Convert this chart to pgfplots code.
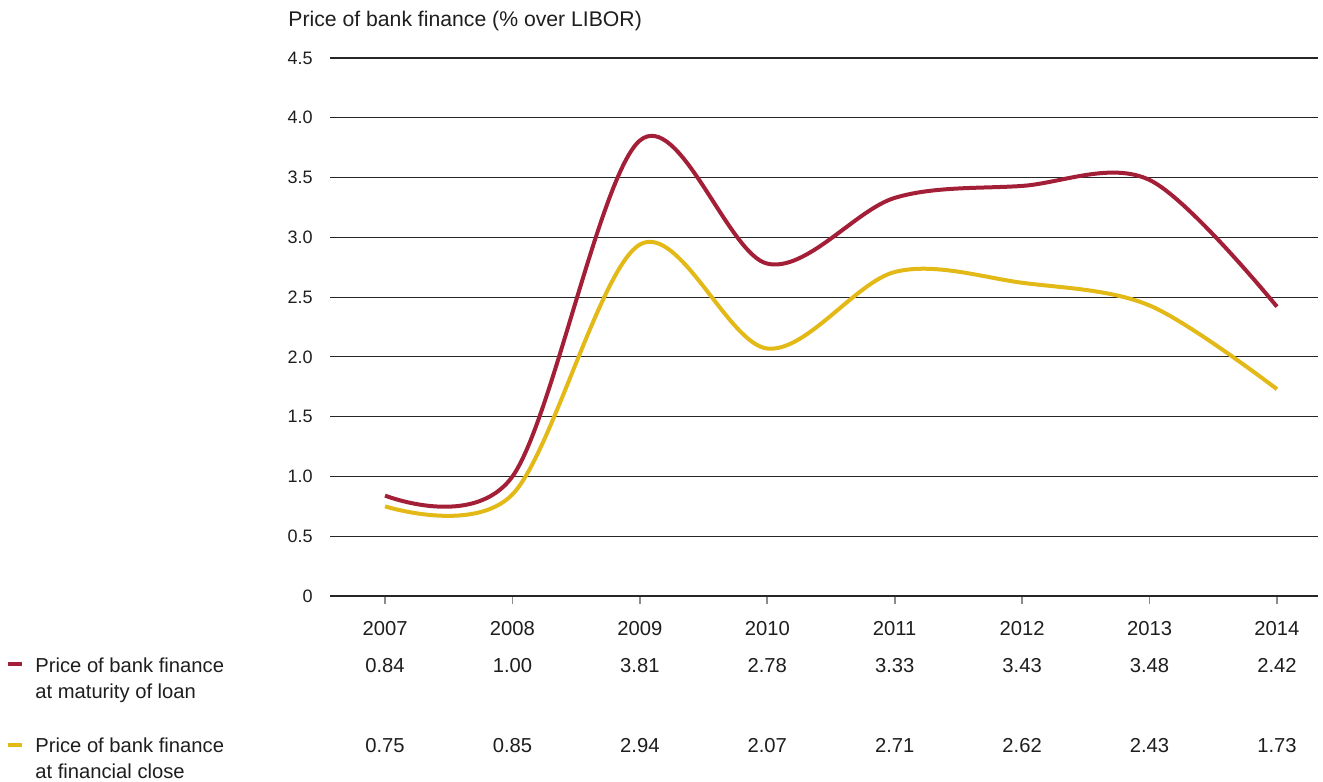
\documentclass[border=0pt]{standalone}
\usepackage{pgfplots}
\pgfplotsset{compat=1.18}
\usepackage{pgfplotstable}
\usepackage{fontspec}
\setmainfont{Liberation Sans}
\definecolor{cred}{RGB}{163,31,56}
\definecolor{cyel}{RGB}{226,185,22}
\definecolor{ctxt}{RGB}{30,30,30}
\pgfplotstableread{
year mat close
2007 0.84 0.75
2008 1.00 0.85
2009 3.81 2.94
2010 2.78 2.07
2011 3.33 2.71
2012 3.43 2.62
2013 3.48 2.43
2014 2.42 1.73
}\data
\begin{document}
\begin{tikzpicture}[font=\fontsize{10.1}{12}\selectfont, text=ctxt]
\path (-165pt,-93pt) rectangle (496.5pt,298pt);
\begin{axis}[
  scale only axis, width=494pt, height=269pt,
  at={(0,0)}, anchor=south west,
  xmin=2006.568, xmax=2014.322, ymin=0, ymax=4.5,
  clip=false,
  axis x line*=bottom, axis y line*=left,
  y axis line style={draw=none},
  x axis line style={black!85, line width=0.6pt},
  xtick={2007,2008,2009,2010,2011,2012,2013,2014},
  xticklabels={2007,2008,2009,2010,2011,2012,2013,2014},
  ytick={0,0.5,1,1.5,2,2.5,3,3.5,4,4.5},
  yticklabels={0,0.5,1.0,1.5,2.0,2.5,3.0,3.5,4.0,4.5},
  /pgf/number format/assume math mode=true,
  tick align=outside,
  major tick length=4pt,
  xtick style={black!45, line width=0.8pt},
  ytick style={draw=none},
  ymajorgrids,
  major grid style={black!85, line width=0.6pt},
  xticklabel style={anchor=base, inner sep=0pt, yshift=-15.5pt, font=\fontsize{10.1}{12}\selectfont, text=ctxt},
  yticklabel style={anchor=east, inner sep=0pt, xshift=-4.5pt, font=\fontsize{9}{11}\selectfont, text=ctxt},
]
\addplot[smooth, tension=0.55, color=cred, line width=2pt] table[x=year, y=mat]{\data};
\addplot[smooth, tension=0.55, color=cyel, line width=2pt] table[x=year, y=close]{\data};
\addplot[draw=none, mark=none, nodes near coords, point meta=explicit symbolic,
  nodes near coords style={anchor=base, inner sep=0pt, text=ctxt, font=\fontsize{10.1}{12}\selectfont}]
  table[x=year, y expr=-0.636, meta=mat]{\data};
\addplot[draw=none, mark=none, nodes near coords, point meta=explicit symbolic,
  nodes near coords style={anchor=base, inner sep=0pt, text=ctxt, font=\fontsize{10.1}{12}\selectfont}]
  table[x=year, y expr=-1.305, meta=close]{\data};
\end{axis}
\node[anchor=base west, inner sep=0pt, font=\fontsize{10.6}{12}\selectfont] at (-21pt,284.5pt) {Price of bank finance (\% over LIBOR)};
\draw[cred, line width=2pt] (-161pt,-34pt) -- (-154pt,-34pt);
\node[anchor=base west, inner sep=0pt] at (-147.5pt,-38pt) {Price of bank finance};
\node[anchor=base west, inner sep=0pt] at (-147.5pt,-51pt) {at maturity of loan};
\draw[cyel, line width=2pt] (-161pt,-74.5pt) -- (-154pt,-74.5pt);
\node[anchor=base west, inner sep=0pt] at (-147.5pt,-78pt) {Price of bank finance};
\node[anchor=base west, inner sep=0pt] at (-147.5pt,-91pt) {at financial close};
\end{tikzpicture}
\end{document}
